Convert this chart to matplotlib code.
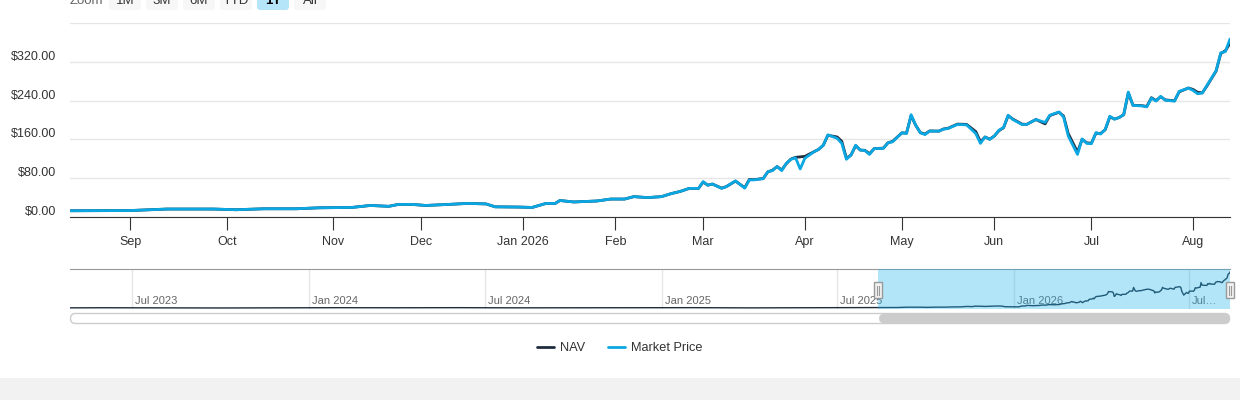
import numpy as np
import pandas as pd
import matplotlib
matplotlib.use('Agg')
import matplotlib.pyplot as plt
import matplotlib.dates as mdates
import matplotlib.transforms as mtransforms
from matplotlib.patches import FancyBboxPatch, Rectangle

plt.rcParams['font.family'] = ['Liberation Sans', 'DejaVu Sans']

# ---- data -------------------------------------------------------------
dates = ['2025-08-13', '2025-09-02', '2025-09-12', '2025-09-26', '2025-10-03',
         '2025-10-13', '2025-10-22', '2025-10-29', '2025-11-07', '2025-11-13',
         '2025-11-19', '2025-11-21', '2025-11-26', '2025-12-02', '2025-12-09',
         '2025-12-15', '2025-12-19', '2025-12-23', '2025-12-31', '2026-01-06',
         '2026-01-09', '2026-01-13', '2026-01-14', '2026-01-20', '2026-01-27',
         '2026-01-30', '2026-02-04', '2026-02-06', '2026-02-11', '2026-02-17',
         '2026-02-19', '2026-02-23', '2026-02-25', '2026-02-27', '2026-03-02',
         '2026-03-03', '2026-03-04', '2026-03-06', '2026-03-09', '2026-03-11',
         '2026-03-13', '2026-03-16', '2026-03-17', '2026-03-19', '2026-03-20',
         '2026-03-23', '2026-03-24', '2026-03-25', '2026-03-26', '2026-03-27',
         '2026-03-30', '2026-03-31', '2026-04-01', '2026-04-06', '2026-04-07',
         '2026-04-08', '2026-04-09', '2026-04-13', '2026-04-14', '2026-04-15',
         '2026-04-16', '2026-04-17', '2026-04-20', '2026-04-21', '2026-04-22',
         '2026-04-23', '2026-04-27', '2026-04-28', '2026-04-29', '2026-05-01',
         '2026-05-04', '2026-05-05', '2026-05-06', '2026-05-07', '2026-05-08',
         '2026-05-11', '2026-05-13', '2026-05-14', '2026-05-15', '2026-05-19',
         '2026-05-21', '2026-05-26', '2026-05-27', '2026-05-28', '2026-05-29',
         '2026-06-01', '2026-06-02', '2026-06-03', '2026-06-04', '2026-06-05',
         '2026-06-09', '2026-06-10', '2026-06-12', '2026-06-16', '2026-06-17',
         '2026-06-22', '2026-06-23', '2026-06-24', '2026-06-26', '2026-06-29',
         '2026-06-30', '2026-07-01', '2026-07-02', '2026-07-06', '2026-07-07',
         '2026-07-08', '2026-07-09', '2026-07-10', '2026-07-13', '2026-07-14',
         '2026-07-15', '2026-07-17', '2026-07-20', '2026-07-21', '2026-07-22',
         '2026-07-23', '2026-07-24', '2026-07-28', '2026-07-29', '2026-07-31',
         '2026-08-03', '2026-08-04', '2026-08-05', '2026-08-06', '2026-08-10',
         '2026-08-11', '2026-08-12', '2026-08-13']

market_price = [12.9, 13.3, 16.4, 16.4, 15.0, 17.0, 17.0, 19.0, 19.7, 23.8,
                22.0, 25.9, 25.9, 23.8, 26.0, 28.0, 27.0, 21.0, 20.5, 19.7,
                28.0, 28.0, 34.0, 31.0, 33.0, 37.0, 37.0, 42.0, 40.0, 42.0,
                48.0, 52.6, 59.0, 59.0, 73.0, 65.6, 68.0, 59.0, 62.6, 74.5,
                59.5, 76.5, 76.5, 79.0, 93.5, 95.6, 104.0, 95.6, 110.7, 119.0,
                122.0, 99.0, 121.0, 134.6, 139.5, 148.0, 169.5, 162.0, 151.8, 119.0,
                127.8, 148.0, 138.0, 137.0, 129.0, 141.0, 141.5, 153.0, 155.0, 173.5,
                172.0, 211.0, 189.0, 173.5, 170.0, 177.0, 177.0, 181.0, 182.5, 190.7,
                190.0, 172.0, 151.8, 165.0, 160.0, 166.8, 179.0, 184.6, 209.8, 201.0,
                190.7, 190.7, 201.0, 195.0, 209.8, 216.6, 206.0, 167.0, 129.0, 161.0,
                151.8, 151.0, 174.0, 171.0, 180.5, 207.8, 201.6, 205.0, 211.0, 257.6,
                230.0, 229.0, 227.0, 245.0, 239.0, 248.8, 240.6, 239.0, 259.0, 265.8,
                261.0, 254.0, 255.6, 271.0, 302.0, 338.5, 341.0, 367.0]

nav_values = [12.9, 13.3, 16.4, 16.4, 15.0, 17.0, 17.0, 19.0, 19.7, 23.8,
              22.0, 25.9, 25.9, 23.8, 26.0, 28.0, 27.0, 21.0, 20.5, 19.7,
              28.0, 28.0, 34.0, 31.0, 33.0, 37.0, 37.0, 42.0, 40.0, 42.0,
              48.0, 52.6, 59.0, 59.0, 72.0, 65.6, 68.0, 59.5, 62.6, 74.0,
              60.5, 77.5, 77.0, 79.5, 93.0, 96.5, 104.0, 97.0, 110.0, 119.5,
              123.0, 124.0, 125.0, 134.6, 139.5, 148.0, 168.5, 165.0, 156.0, 121.0,
              127.8, 147.0, 138.0, 137.5, 130.5, 141.0, 142.0, 153.0, 156.0, 173.5,
              173.0, 209.0, 189.0, 174.0, 171.0, 177.5, 177.0, 181.5, 183.0, 191.5,
              191.0, 176.0, 155.0, 165.0, 160.5, 167.0, 178.0, 184.0, 209.0, 202.0,
              191.5, 191.0, 201.0, 192.0, 209.0, 216.0, 208.0, 172.0, 134.0, 160.0,
              153.0, 152.0, 173.0, 172.0, 180.0, 206.5, 202.0, 205.0, 211.0, 256.0,
              230.5, 229.5, 228.0, 246.0, 240.0, 248.0, 241.5, 239.5, 258.0, 266.0,
              263.0, 257.0, 256.0, 270.0, 301.0, 337.0, 343.0, 358.0]

# older history that only shows in the navigator
hist_dates = ['2023-04-28', '2023-06-01', '2023-08-01', '2023-10-02', '2023-12-01',
              '2024-02-01', '2024-04-01', '2024-06-03', '2024-08-01', '2024-10-01',
              '2024-12-02', '2025-02-03', '2025-04-01', '2025-06-02', '2025-08-01']
hist_values = [10.0, 11.0, 9.5, 8.8, 10.5, 11.5, 10.8, 11.8, 10.2, 11.0,
               12.5, 11.8, 9.8, 11.5, 12.6]

holidays = ['2025-09-01', '2025-11-27', '2025-12-25', '2026-01-01', '2026-01-19',
            '2026-02-16', '2026-04-03', '2026-05-25', '2026-06-19', '2026-07-03']

month_labels = ['Sep', 'Oct', 'Nov', 'Dec', 'Jan 2026', 'Feb', 'Mar', 'Apr',
                'May', 'Jun', 'Jul', 'Aug']
nav_tick_dates = ['2023-07-01', '2024-01-01', '2024-07-01', '2025-01-01',
                  '2025-07-01', '2026-01-01', '2026-07-01']
nav_tick_labels = ['Jul 2023', 'Jan 2024', 'Jul 2024', 'Jan 2025', 'Jul 2025',
                   'Jan 2026', 'Jul\u2026']
zoom_buttons = ['1M', '3M', '6M', 'YTD', '1Y', 'All']
selected_button = '1Y'

NAV_COLOR = '#1f2d3d'
PRICE_COLOR = '#0ba7e3'

W, H = 1240, 400


def frac(l, t, r, b):
    return [l / W, 1 - b / H, (r - l) / W, (b - t) / H]


fig = plt.figure(figsize=(W / 100, H / 100), dpi=100)

bg = fig.add_axes([0, 0, 1, 1])
bg.set_xlim(0, W)
bg.set_ylim(H, 0)
bg.axis('off')
bg.set_zorder(0)

# ---- main chart (ordinal trading-day axis) ----------------------------
cal = pd.bdate_range(dates[0], dates[-1], freq='C', holidays=holidays)
x = cal.get_indexer(pd.to_datetime(dates), method='bfill')

ax = fig.add_axes(frac(70, 23, 1230, 217))
ax.set_zorder(2)
ax.patch.set_alpha(0)
ax.plot(x, nav_values, color=NAV_COLOR, lw=2, label='NAV',
        solid_joinstyle='round', solid_capstyle='round')
ax.plot(x, market_price, color=PRICE_COLOR, lw=2, label='Market Price',
        solid_joinstyle='round', solid_capstyle='round')
ax.set_xlim(0, len(cal) - 1)
ax.set_ylim(0, 400)
yt = np.arange(0, 401, 80)
ax.set_yticks(yt)
ax.grid(axis='y', color='#e6e6e6', lw=1)
ax.set_axisbelow(True)
for s in ['top', 'left', 'right']:
    ax.spines[s].set_visible(False)
ax.spines['bottom'].set_color('#333333')
ax.tick_params(axis='y', length=0, labelleft=False)

first_days = cal.to_series().groupby(cal.to_period('M')).first()
month_pos = cal.get_indexer(first_days.values[1:])
ax.set_xticks(month_pos)
ax.set_xticklabels(month_labels)
ax.tick_params(axis='x', length=9, color='#333333', labelsize=9,
               labelcolor='#333333', pad=5)

ylab_tr = mtransforms.offset_copy(ax.get_yaxis_transform(), fig=fig,
                                  x=-14, y=5, units='dots')
for v in yt[:-1]:
    ax.text(0, v, f'${v:,.2f}', transform=ylab_tr, ha='right', va='center',
            fontsize=9, color='#333333')

# ---- navigator --------------------------------------------------------
nav_x = pd.to_datetime(hist_dates + dates)
nav_y = np.array(hist_values + nav_values)
nav = fig.add_axes(frac(70, 269, 1230, 309))
nav.set_zorder(2)
nav.patch.set_alpha(0)
nav.plot(nav_x, nav_y, color=NAV_COLOR, lw=1, zorder=2)
nav.set_xlim(nav_x[0], nav_x[-1])
nav.set_ylim(nav_y.min() - 10, nav_y.max() + 30)
nav.set_yticks([])
nav.set_xticks(pd.to_datetime(nav_tick_dates))
nav.set_xticklabels(nav_tick_labels, ha='left')
nav.tick_params(axis='x', direction='in', length=0, pad=-9, labelsize=8,
                labelcolor='#666666')
shift = mtransforms.ScaledTranslation(3 / 100, 0, fig.dpi_scale_trans)
for lbl in nav.get_xticklabels():
    lbl.set_transform(lbl.get_transform() + shift)
nav.grid(axis='x', color='#e6e6e6', lw=1)
for s in ['bottom', 'left', 'right']:
    nav.spines[s].set_visible(False)
nav.spines['top'].set_color('#999999')

sel0, sel1 = pd.Timestamp(dates[0]), pd.Timestamp(dates[-1])
nav.axvspan(sel0, sel1, color='#23b5eb', alpha=0.35, lw=0, zorder=3)

px0 = nav.transData.transform((mdates.date2num(sel0), 0))[0]
px1 = nav.transData.transform((mdates.date2num(sel1), 0))[0]

fg = fig.add_axes([0, 0, 1, 1])
fg.set_xlim(0, W)
fg.set_ylim(H, 0)
fg.axis('off')
fg.set_zorder(5)
fg.patch.set_alpha(0)

for hx in (px0, px1):
    fg.add_patch(Rectangle((hx - 4, 282), 8, 16, fc='#f2f2f2', ec='#999999', lw=1))
    fg.plot([hx - 1.2, hx - 1.2], [285.5, 294.5], color='#999999', lw=0.8)
    fg.plot([hx + 1.2, hx + 1.2], [285.5, 294.5], color='#999999', lw=0.8)

# scrollbar
bg.add_patch(FancyBboxPatch((70.5, 313.5), 1159, 10,
                            boxstyle='round,pad=0,rounding_size=5',
                            fc='white', ec='#cccccc', lw=1))
bg.add_patch(FancyBboxPatch((px0 + 1, 314), px1 - px0 - 1, 9,
                            boxstyle='round,pad=0,rounding_size=4.5',
                            fc='#cccccc', ec='none'))

# ---- range selector (cut off at the top) ------------------------------
bg.text(70, 3.5, 'Zoom', ha='left', va='baseline', fontsize=9.5, color='#666666')
for i, b in enumerate(zoom_buttons):
    bx = 109 + i * 37
    sel = b == selected_button
    bg.add_patch(FancyBboxPatch((bx, -12), 32, 22,
                                boxstyle='round,pad=0,rounding_size=3',
                                fc='#b5e5f8' if sel else '#f7f7f7', ec='none'))
    bg.text(bx + 16, 3.5, b, ha='center', va='baseline', fontsize=9.5,
            color='#000000' if sel else '#333333',
            fontweight='bold' if sel else 'normal')

# ---- legend and footer band --------------------------------------------
h, l = ax.get_legend_handles_labels()
fig.legend(h, l, loc='center', bbox_to_anchor=(620 / W, 1 - 348 / H), ncol=2,
           frameon=False, fontsize=9.2, handlelength=1.3, handletextpad=0.5,
           columnspacing=1.8, labelcolor='#333333')

bg.add_patch(Rectangle((0, 378), W, 22, fc='#f2f2f2', ec='none'))

fig.savefig('out.png', dpi=100)
